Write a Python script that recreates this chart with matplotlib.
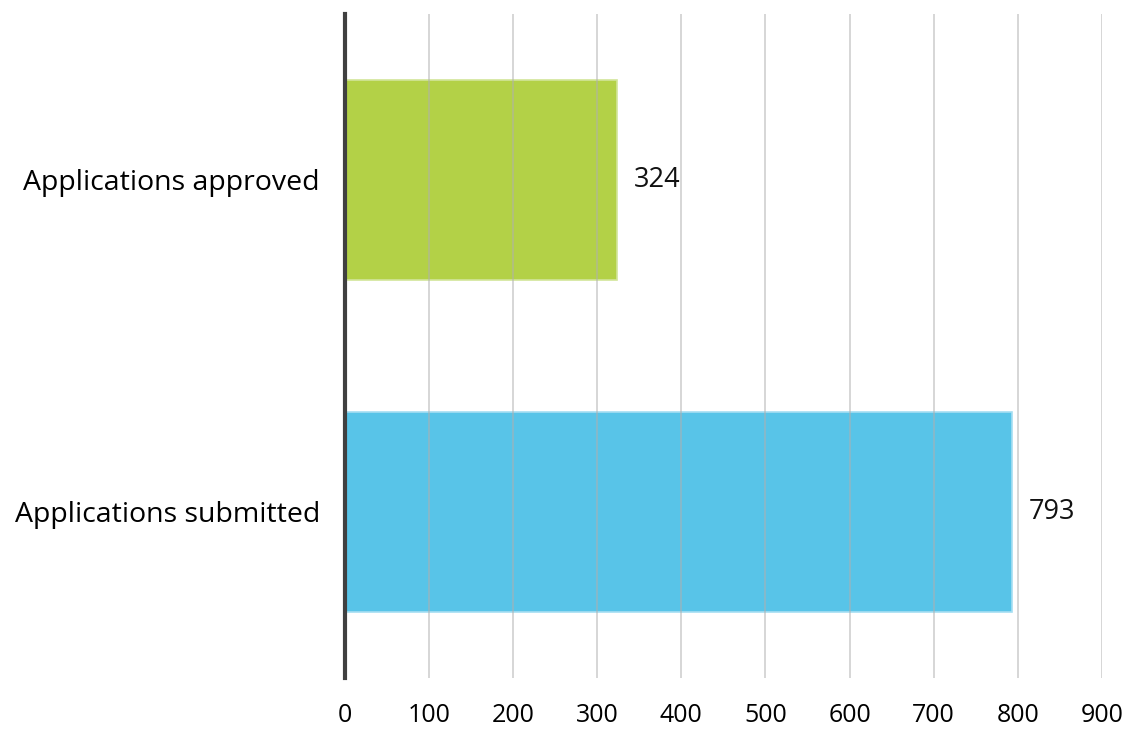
import matplotlib
matplotlib.use("Agg")
from matplotlib import pyplot as plt

categories = ["Applications submitted", "Applications approved"]
values = [793, 324]
colors = ["#58c4e8", "#b3d147"]
edge_colors = ["#a6def2", "#d2e59a"]
ticks = [0, 100, 200, 300, 400, 500, 600, 700, 800, 900]

plt.rcParams['font.family'] = ['Open Sans', 'DejaVu Sans']

fig = plt.figure(figsize=(11.33, 7.29), dpi=100)
ax = fig.add_axes([0.3045, 0.070, 0.668, 0.9108])

ys = list(range(len(categories)))
ax.barh(ys, values, height=0.6, color=colors, edgecolor=edge_colors, linewidth=1.2, zorder=2)

# gridlines sit over the bars, faintly
for t in ticks[1:]:
    ax.axvline(t, color="#b0b0b0", linewidth=1.2, alpha=0.6, zorder=3)

for y, v in zip(ys, values):
    ax.text(v + 20, y, str(v), va="center", ha="left", fontsize=19.5, color="#111111")

ax.set_xlim(0, 900)
ax.set_ylim(-0.5, 1.5)
ax.set_xticks(ticks)
ax.set_xticklabels([str(t) for t in ticks], fontsize=18)
ax.set_yticks(ys)
ax.set_yticklabels(categories, fontsize=20.5)
ax.tick_params(axis="x", length=0, pad=18)
ax.tick_params(axis="y", length=0, pad=18)

for s in ["top", "right", "bottom"]:
    ax.spines[s].set_visible(False)
ax.spines["left"].set_color("#404040")
ax.spines["left"].set_linewidth(3)
ax.spines["left"].set_zorder(4)

fig.savefig("out.png", dpi=100)
